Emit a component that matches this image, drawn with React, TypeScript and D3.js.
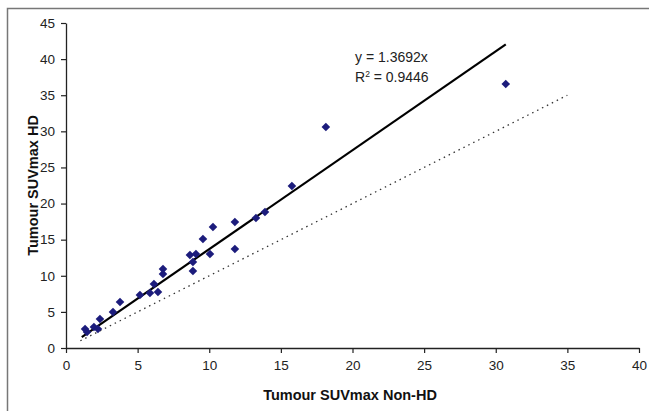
import React, { useRef, useEffect } from 'react';
import * as d3 from 'd3';

// SUVmax readings (non-HD vs HD)
const nonHD = [1.33, 1.47, 1.95, 2.23, 2.37, 3.28, 3.77, 5.16, 5.86, 6.14, 6.42, 6.77, 6.77, 8.65, 8.86, 8.86, 9.07, 9.56, 10.05, 10.26, 11.79, 11.79, 13.26, 13.89, 15.77, 18.14, 30.7];
const hd = [2.63, 2.22, 2.91, 2.63, 4.02, 4.98, 6.37, 7.34, 7.62, 8.86, 7.75, 10.94, 10.25, 12.87, 11.91, 10.66, 13.02, 15.09, 13.02, 16.75, 17.45, 13.71, 18.0, 18.83, 22.43, 30.6, 36.55];
const slope = 1.3692;
const identityRange = [1, 35];
const xTicks = [0, 5, 10, 15, 20, 25, 30, 35, 40];
const yTicks = [0, 5, 10, 15, 20, 25, 30, 35, 40, 45];

const W = 649;
const H = 411;

function App() {
  const svgRef = useRef<SVGSVGElement>(null);

  useEffect(() => {
    const svg = d3.select(svgRef.current);
    svg.selectAll('*').remove();

    const x = d3.scaleLinear().domain([0, 40]).range([66, 639]);
    const y = d3.scaleLinear().domain([0, 45]).range([348, 23]);

    // frame
    svg.append('path')
      .attr('d', `M7.5,${H} V8.5 H${W}`)
      .attr('fill', 'none')
      .attr('stroke', '#777')
      .attr('stroke-width', 1.5);

    const font = 'Arial, "Liberation Sans", sans-serif';

    const xAxis = svg.append('g')
      .attr('transform', `translate(0,${y(0)})`)
      .call(d3.axisBottom(x).tickValues(xTicks).tickSize(5).tickPadding(7).tickSizeOuter(0));
    const yAxis = svg.append('g')
      .attr('transform', `translate(${x(0)},0)`)
      .call(d3.axisLeft(y).tickValues(yTicks).tickSize(5).tickPadding(6).tickSizeOuter(0));

    [xAxis, yAxis].forEach(g => {
      g.select('.domain').attr('stroke', '#222').attr('stroke-width', 1.3);
      g.selectAll('.tick line').attr('stroke', '#222').attr('stroke-width', 1.2);
      g.selectAll('.tick text')
        .attr('font-family', font)
        .attr('font-size', 13.5)
        .attr('fill', '#222');
    });

    // identity line (dotted)
    svg.append('line')
      .attr('x1', x(identityRange[0])).attr('y1', y(identityRange[0]))
      .attr('x2', x(identityRange[1])).attr('y2', y(identityRange[1]))
      .attr('stroke', '#333')
      .attr('stroke-width', 1.3)
      .attr('stroke-dasharray', '1.5,4');

    // trendline
    const x0 = 1.1;
    const x1 = d3.max(nonHD)!;
    svg.append('line')
      .attr('x1', x(x0)).attr('y1', y(slope * x0))
      .attr('x2', x(x1)).attr('y2', y(slope * x1))
      .attr('stroke', '#000')
      .attr('stroke-width', 2.2);

    // excel style diamond, as wide as tall
    const r0 = 4.3;
    const diamond = `M0,${-r0}L${r0},0L0,${r0}L${-r0},0Z`;
    svg.append('g')
      .selectAll('path')
      .data(nonHD.map((v, i) => [v, hd[i]]))
      .join('path')
      .attr('d', diamond)
      .attr('transform', d => `translate(${x(d[0])},${y(d[1])})`)
      .attr('fill', '#1c1c7c');

    // equation
    svg.append('text')
      .attr('font-family', font)
      .attr('font-size', 14)
      .attr('fill', '#222')
      .attr('x', 355).attr('y', 62)
      .text(`y = ${slope}x`);
    const r = svg.append('text')
      .attr('font-family', font)
      .attr('font-size', 14)
      .attr('fill', '#222')
      .attr('x', 355).attr('y', 82);
    r.append('tspan').text('R');
    r.append('tspan').attr('font-size', 8.5).attr('dy', -5).text('2');
    r.append('tspan').attr('dy', 5).text(' = 0.9446');

    // axis titles
    svg.append('text')
      .attr('x', 350).attr('y', 400)
      .attr('text-anchor', 'middle')
      .attr('font-family', font)
      .attr('font-weight', 'bold')
      .attr('font-size', 14.5)
      .attr('fill', '#111')
      .text('Tumour SUVmax Non-HD');
    svg.append('text')
      .attr('transform', `translate(38,${y(22.5)}) rotate(-90)`)
      .attr('text-anchor', 'middle')
      .attr('font-family', font)
      .attr('font-weight', 'bold')
      .attr('font-size', 14.5)
      .attr('fill', '#111')
      .text('Tumour SUVmax HD');
  }, []);

  return (
    <div style={{ position: 'fixed', left: 0, top: 0 }}>
      <svg ref={svgRef} width={W} height={H} style={{ display: 'block', background: '#fff' }} />
    </div>
  );
}

export default App;
